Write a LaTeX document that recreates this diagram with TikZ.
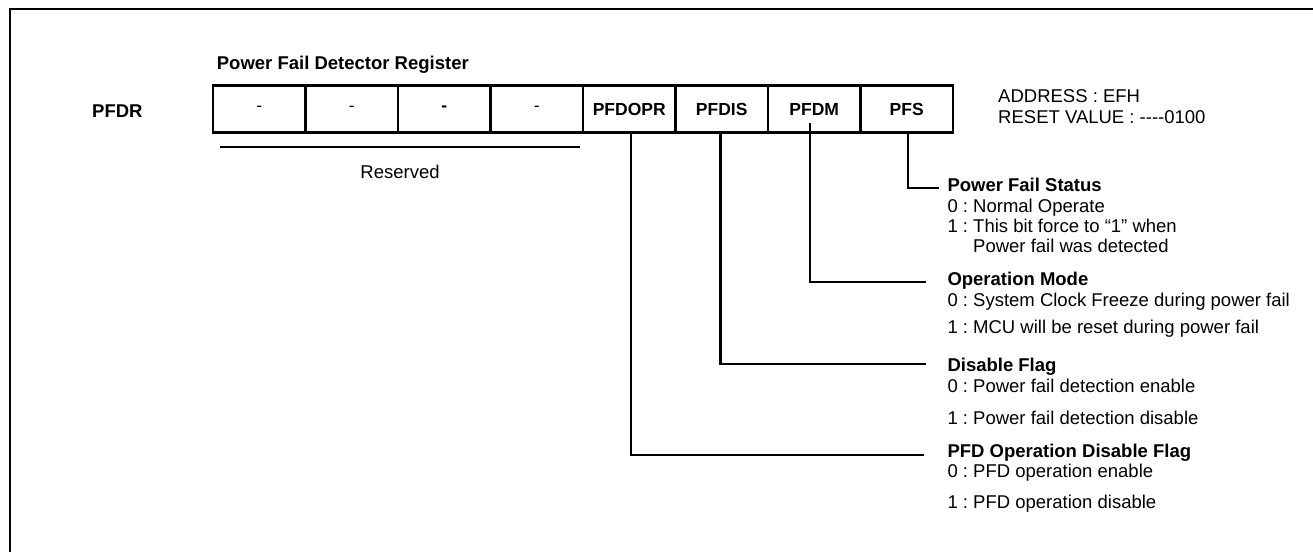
\documentclass[tikz,border=0pt]{standalone}
\usepackage{fontspec}
\setmainfont{Liberation Sans}
\begin{document}
\frenchspacing
\begin{tikzpicture}[x=1pt,y=-1pt,
  txt/.style={inner sep=0pt, anchor=base west, font=\fontsize{18.5}{20}\selectfont},
  hd/.style={inner sep=0pt, anchor=base west, font=\fontsize{18.5}{20}\selectfont\bfseries},
  cell/.style={draw, line width=2.9pt, minimum width=92.5pt, minimum height=47pt, inner sep=0pt, font=\fontsize{17.5}{20}\selectfont\bfseries},
  conn/.style={line width=2.2pt},
  frame/.style={line width=2.8pt}]
\useasboundingbox (0,0) rectangle (1313,551);
% outer frame (only top and left visible)
\draw[frame] (10,570) -- (10,9) -- (1330,9);

% title and register name
\node[hd] (title) at (216.7,69.3) {Power Fail Detector Register};
\node[inner sep=0pt, anchor=base, font=\fontsize{18.5}{20}\selectfont\bfseries] (pfdr) at (117.4,117.7) {PFDR};

% register cells
\node[cell] (c1) at (259.25,109.2) {\mdseries -};
\node[cell] (c2) at (351.75,109.2) {\mdseries -};
\node[cell] (c3) at (444.25,109.2) {-};
\node[cell] (c4) at (536.75,109.2) {\mdseries -};
\node[cell] (c5) at (629.25,109.2) {PFDOPR};
\node[cell] (c6) at (721.75,109.2) {PFDIS};
\node[cell] (c7) at (814.25,109.2) {PFDM};
\node[cell] (c8) at (906.75,109.2) {PFS};

% address / reset value
\node[txt] (addr) at (998,102.7) {ADDRESS : EFH};
\node[txt] (reset) at (998,123.3) {RESET VALUE : -{}-{}-{}-0100};

% reserved
\coordinate (r1) at (220,147);
\coordinate (r2) at (580,147);
\draw[conn] (r1) -- (r2);
\node[inner sep=0pt, anchor=base, font=\fontsize{18.5}{20}\selectfont] (resv) at (400,178) {Reserved};

% PFS description
\node[hd]  (s0) at (947.3,191.7) {Power Fail Status};
\node[txt] (s1) at (947.3,212.3) {0 : Normal Operate};
\node[txt] (s2) at (947.3,232.7) {1 : This bit force to “1” when};
\node[txt] (s3) at (973.0,252.7) {Power fail was detected};

% PFDM description
\node[hd]  (m0) at (947.3,285.7) {Operation Mode};
\node[txt] (m1) at (947.3,306.7) {0 : System Clock Freeze during power fail};
\node[txt] (m2) at (947.3,333.3) {1 : MCU will be reset during power fail};

% PFDIS description
\node[hd]  (d0) at (947.3,371.7) {Disable Flag};
\node[txt] (d1) at (947.3,392.7) {0 : Power fail detection enable};
\node[txt] (d2) at (947.3,424.0) {1 : Power fail detection disable};

% PFDOPR description
\node[hd]  (o0) at (947.3,457.3) {PFD Operation Disable Flag};
\node[txt] (o1) at (947.3,477.7) {0 : PFD operation enable};
\node[txt] (o2) at (947.3,508.0) {1 : PFD operation disable};

% connectors
\coordinate (e8) at (939,187.7);
\coordinate (e7) at (926.4,281.7);
\coordinate (e6) at (926,364);
\coordinate (e5) at (923.6,455);
\draw[conn] ([xshift=1.5pt]c8.south) |- (e8);
\draw[conn] ([xshift=-4.25pt,yshift=11pt]c7.south) |- (e7);
\draw[conn] ([xshift=-1.25pt]c6.south) |- (e6);
\draw[conn] ([xshift=1.75pt]c5.south) |- (e5);
\end{tikzpicture}
\end{document}
